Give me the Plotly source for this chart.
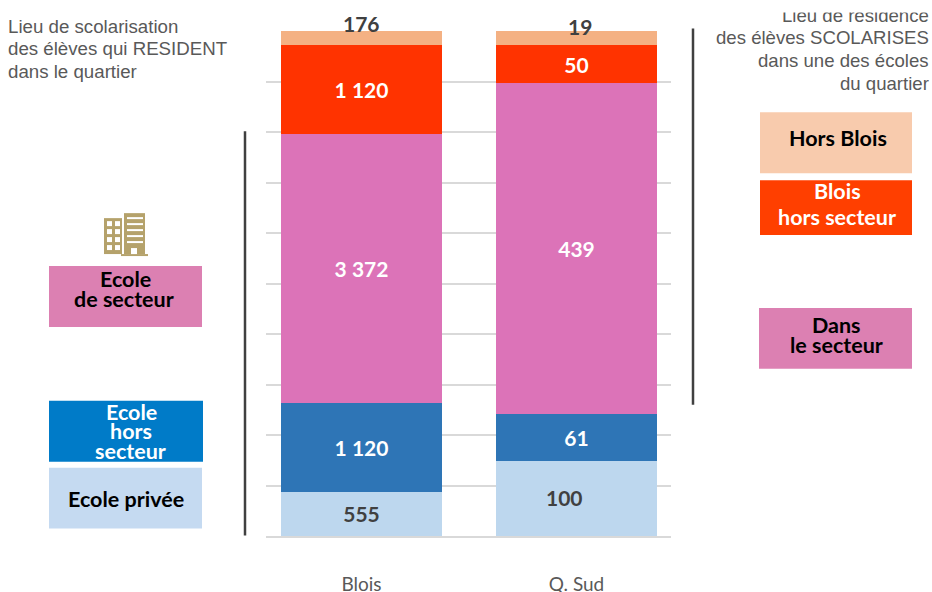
import plotly.graph_objects as go

W, H = 932, 592
PL, PR, PT, PB = 266, 671, 30.5, 536.5

categories = ["Blois", "Q. Sud"]
series_names = ["Ecole privée", "Ecole hors secteur", "Ecole de secteur", "Blois hors secteur", "Hors Blois"]
prive = [555, 100]
hors_secteur = [1120, 61]
secteur = [3372, 439]
blois_hors = [1120, 50]
hors_blois = [176, 19]

prive_labels = ["555", ""]
hors_secteur_labels = ["1 120", "61"]
secteur_labels = ["3 372", "439"]
blois_hors_labels = ["1 120", "50"]
hors_blois_labels = ["", ""]

colors = ["#BDD7EE", "#2E75B6", "#DC73B8", "#FF3300", "#F4B183"]
text_colors = ["#404040", "#FFFFFF", "#FFFFFF", "#FFFFFF", "#404040"]
all_values = [prive, hors_secteur, secteur, blois_hors, hors_blois]
all_labels = [prive_labels, hors_secteur_labels, secteur_labels, blois_hors_labels, hors_blois_labels]

BAR_FONT = "Lato, Carlito, sans-serif"
ARIAL = "Liberation Sans, Arial, sans-serif"
KEY_SIZE = 21.5
VAL_SIZE = 21


def px(x):
    return (x - PL) / (PR - PL)


def py(y):
    return (PB - y) / (PB - PT)


fig = go.Figure()
for name, vals, labs, col, tc in zip(series_names, all_values, all_labels, colors, text_colors):
    fig.add_trace(go.Bar(
        x=[0, 1], y=vals, name=name, width=0.749,
        marker=dict(color=col, line=dict(width=0)),
        text=labs, textposition="inside", insidetextanchor="middle", textangle=0,
        constraintext="none",
        textfont=dict(family=BAR_FONT, size=VAL_SIZE, color=tc, weight="bold"),
        hoverinfo="skip",
    ))

shapes = []
annotations = []


def rect(x0, y0, x1, y1, col):
    shapes.append(dict(type="rect", xref="paper", yref="paper", x0=px(x0), x1=px(x1),
                       y0=py(y1), y1=py(y0), fillcolor=col, line=dict(width=0), layer="above"))


def label(text, x, y, color="#000000", size=KEY_SIZE, font=BAR_FONT, weight="bold", xanchor="center", align="center"):
    annotations.append(dict(text=text, xref="paper", yref="paper", x=px(x), y=py(y),
                            xanchor=xanchor, yanchor="middle", align=align, showarrow=False,
                            borderpad=0, borderwidth=0,
                            font=dict(family=font, size=size, color=color, weight=weight)))


# left and right brackets
for x, y0, y1 in [(245, 131, 536), (693, 28, 405)]:
    shapes.append(dict(type="line", xref="paper", yref="paper", x0=px(x), x1=px(x),
                       y0=py(y1), y1=py(y0), line=dict(color="#404040", width=2.5), layer="above"))

# key boxes
rect(49, 266, 202, 327, "#DC80B2")
rect(49, 401, 203, 462, "#007BC8")
rect(49, 468, 202, 529, "#C5DAF1")
rect(760, 112, 912, 173, "#F8CBAD")
rect(760, 180, 912, 235, "#FF3F00")
rect(759, 308, 912, 369, "#DC80B2")

label("Ecole", 125, 279)
label("de secteur", 124, 299)
label("Ecole", 131, 412, "#FFFFFF")
label("hors", 131, 431, "#FFFFFF")
label("secteur", 130, 451, "#FFFFFF")
label("Ecole privée", 126, 499)
label("Hors Blois", 838, 138)
label("Blois", 837, 191, "#FFFFFF")
label("hors secteur", 837, 217, "#FFFFFF")
label("Dans", 836, 325)
label("le secteur", 836, 345)

# data labels placed off-centre in the reference
label(str(hors_blois[0]), 361.5, 23, "#404040", VAL_SIZE)
label(str(hors_blois[1]), 580, 26, "#404040", VAL_SIZE)
label(str(prive[1]), 564, 497.5, "#404040", VAL_SIZE)

# side notes
for txt, y in [("Lieu de scolarisation", 26), ("des élèves qui RESIDENT", 48), ("dans le quartier", 71)]:
    label(txt, 8, y, "#595959", 18.7, ARIAL, "normal", "left", "left")
for txt, y in [("Lieu de résidence", 15), ("des élèves SCOLARISES", 37),
               ("dans une des écoles", 60), ("du quartier", 83)]:
    label(txt, 929, y, "#595959", 18.6, ARIAL, "normal", "right", "right")
annotations.append(dict(text=" ", xref="paper", yref="paper", x=px(832), y=py(5.5), xanchor="center",
                        yanchor="middle", width=200, height=11, bgcolor="#FFFFFF", showarrow=False,
                        borderpad=0, font=dict(size=8)))

# building icon
GOLD = "#B5A26B"
rect(104, 218, 122, 254, GOLD)
rect(124, 213, 145, 254, GOLD)
rect(121, 254, 148, 256, GOLD)
for row in [221, 229, 237, 245]:
    for col in [107, 115]:
        rect(col, row, col + 5, row + 5, "#FFFFFF")
for row in [217, 223, 229, 235, 241]:
    rect(127, row, 143, row + 2, "#FFFFFF")
rect(131, 248, 137, 254, "#FFFFFF")

fig.update_layout(
    width=W, height=H, barmode="stack", barnorm="percent", showlegend=False,
    paper_bgcolor="#FFFFFF", plot_bgcolor="#FFFFFF",
    margin=dict(l=PL, r=W - PR, t=PT, b=H - PB, autoexpand=False),
    shapes=shapes, annotations=annotations,
    xaxis=dict(tickmode="array", tickvals=[0, 1], ticktext=categories,
               range=[(PL - 361.5) / 215, (PR - 361.5) / 215], showgrid=False, zeroline=False,
               showline=True, linecolor="#D9D9D9", linewidth=1.5, ticks="",
               ticklabelstandoff=30, tickfont=dict(family=BAR_FONT, size=19, color="#595959")),
    yaxis=dict(range=[0, 100], dtick=10, showticklabels=False, ticks="", showline=False,
               showgrid=True, gridcolor="#D9D9D9", gridwidth=1.5, zeroline=False),
)

fig.write_html("out.html", config=dict(displayModeBar=False),
               post_script="document.body.style.margin='0';document.body.style.overflow='hidden';")
